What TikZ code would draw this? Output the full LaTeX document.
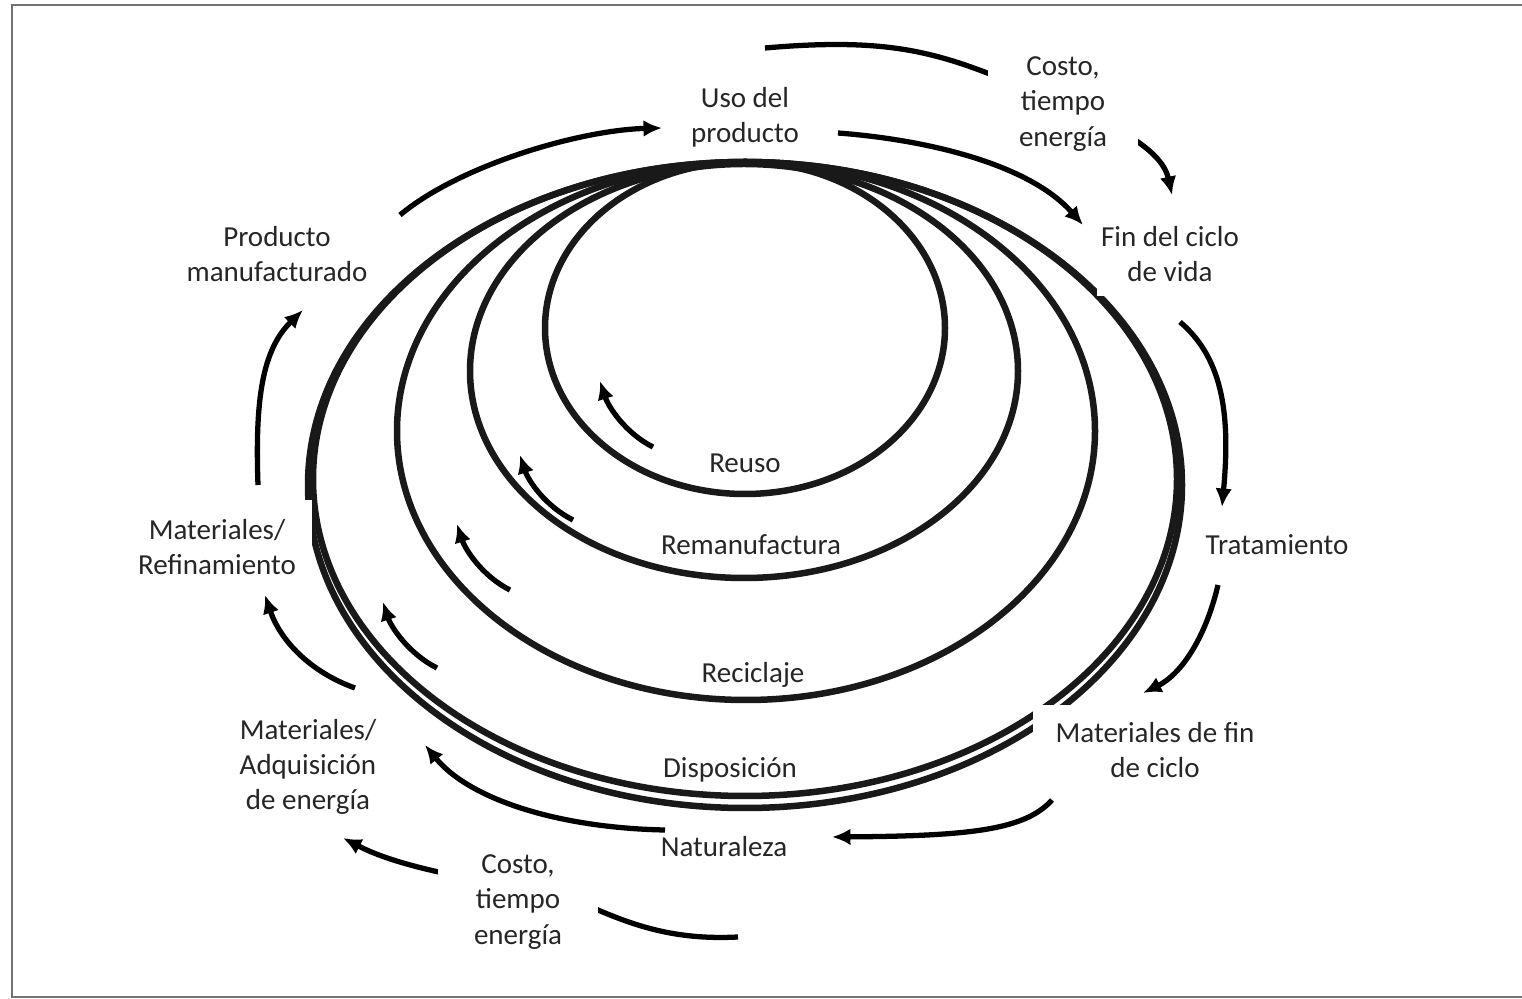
\documentclass[tikz,border=0pt]{standalone}
\usepackage{fontspec}
\setmainfont{Carlito}
\usetikzlibrary{arrows.meta}

\begin{document}
\begin{tikzpicture}[x=0.02cm,y=-0.02cm,
  lbl/.style={align=center,font=\fontsize{16.5}{20}\selectfont,text=black!85,inner sep=1pt},
  patch/.style={lbl,fill=white},
  ring/.style={line width=3.7pt,black!90},
  arr/.style={line width=3pt,-{Latex[length=10.5pt,width=9.5pt]}}]
\useasboundingbox (0,0) rectangle (1522,999);
\draw[black!55,line width=1.6pt](1522,5)--(12,5)--(12,997)--(1522,997);

% the loops, all touching at the top
\draw[ring](745,328) ellipse [x radius=200,y radius=166];
\draw[ring](744,371) ellipse [x radius=274,y radius=207];
\draw[ring](746,431) ellipse [x radius=349,y radius=269];
\draw[ring](745,479) ellipse [x radius=432,y radius=317];
\draw[ring](745,485) ellipse [x radius=437,y radius=323];

% arrow ends
\coordinate (a1) at (400,215); \coordinate (b1) at (662,128);
\coordinate (a2) at (838,133); \coordinate (b2) at (1083,225);
\coordinate (a3) at (765,48);  \coordinate (m3) at (1000,78); \coordinate (b3) at (1172,195);
\coordinate (a4) at (1180,322); \coordinate (b4) at (1222,507);
\coordinate (a5) at (1218,585); \coordinate (b5) at (1143,693);
\coordinate (a6) at (1052,800); \coordinate (b6) at (832,837);
\coordinate (a7) at (665,830); \coordinate (b7) at (425,745);
\coordinate (a8) at (738,937); \coordinate (m8) at (598,910); \coordinate (b8) at (343,838);
\coordinate (a9) at (355,688); \coordinate (b9) at (265,595);
\coordinate (a10) at (258,485); \coordinate (b10) at (303,310);

% the two long ones run behind the cost boxes
\draw[arr](a3) .. controls (880,38) and (930,50) .. (m3) .. controls (1080,110) and (1160,140) .. (b3);
\draw[arr](a8) .. controls (680,940) and (640,928) .. (m8) .. controls (540,885) and (420,878) .. (b8);

% outer cycle labels
\node[lbl](uso) at (745,117) {Uso del\\producto};
\node[patch,minimum width=3cm,minimum height=2.16cm](costoA) at (1063,104) {Costo,\\tiempo\\energía};
\node[patch,minimum width=2.92cm,minimum height=1.7cm](fin) at (1170,254) {Fin del ciclo\\de vida};
\node[lbl](trat) at (1277,545) {Tratamiento};
\node[patch,minimum width=4.88cm,minimum height=1.8cm](matfin) at (1155,750) {Materiales de fin\\de ciclo};
\node[lbl](nat) at (724,847) {Naturaleza};
\node[patch,minimum width=3.2cm,minimum height=2.3cm](costoB) at (518,902) {Costo,\\tiempo\\energía};
\node[lbl](adq) at (308,767) {Materiales/\\Adquisición\\de energía};
\node[patch,minimum width=3.8cm,minimum height=1.9cm](refin) at (217,547) {Materiales/\\Refinamiento};
\node[lbl](prod) at (277,254) {Producto\\manufacturado};

% loop labels
\node[lbl](reuso) at (745,463) {Reuso};
\node[lbl](reman) at (751,545) {Remanufactura};
\node[lbl](recic) at (753,675) {Reciclaje};
\node[lbl](disp) at (730,770) {Disposición};

\draw[arr](a1) .. controls (460,165) and (580,130) .. (b1);
\draw[arr](a2) .. controls (930,140) and (1030,165) .. (b2);
\draw[arr](a4) .. controls (1225,360) and (1230,420) .. (b4);
\draw[arr](a5) .. controls (1205,640) and (1180,675) .. (b5);
\draw[arr](a6) .. controls (1025,830) and (970,836) .. (b6);
\draw[arr](a7) .. controls (560,828) and (470,800) .. (b7);
\draw[arr](a9) .. controls (310,672) and (280,640) .. (b9);
\draw[arr](a10) .. controls (255,400) and (262,350) .. (b10);

% inner arrows
\coordinate (c1) at (653,447); \coordinate (d1) at (600,381);
\coordinate (c2) at (573,520); \coordinate (d2) at (520,455);
\coordinate (c3) at (510,590); \coordinate (d3) at (457,524);
\coordinate (c4) at (437,668); \coordinate (d4) at (383,602);
\foreach \i in {1,...,4}
  \draw[arr](c\i) .. controls +(-28,-14) and +(8,25) .. (d\i);
\end{tikzpicture}
\end{document}
